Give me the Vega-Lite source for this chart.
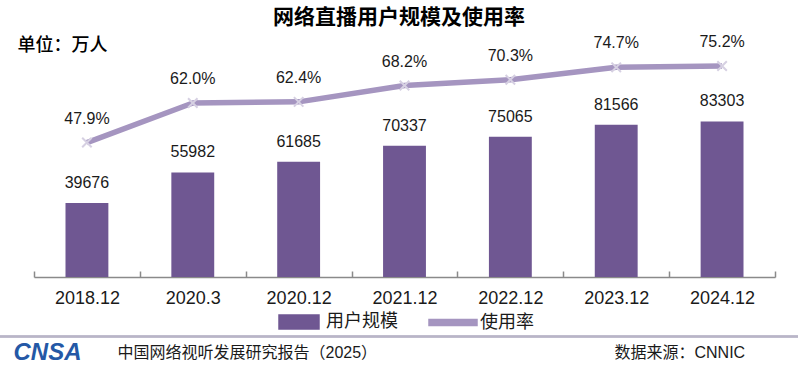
{
  "$schema": "https://vega.github.io/schema/vega-lite/v6.json",
  "width": 798,
  "height": 247,
  "padding": {"top": 30, "left": 0, "right": 0, "bottom": 93},
  "autosize": {"type": "none"},
  "background": "white",
  "title": {
    "text": "网络直播用户规模及使用率",
    "font": "Noto Sans CJK SC",
    "fontSize": 21,
    "fontWeight": "bold",
    "color": "#000000",
    "anchor": "middle",
    "frame": "group",
    "offset": 2
  },
  "config": {
    "view": {"stroke": null},
    "text": {"font": "Liberation Sans"}
  },
  "data": {
    "values": [
      {"period": "2018.12", "users": 39676, "rate": 0.479},
      {"period": "2020.3", "users": 55982, "rate": 0.620},
      {"period": "2020.12", "users": 61685, "rate": 0.624},
      {"period": "2021.12", "users": 70337, "rate": 0.682},
      {"period": "2022.12", "users": 75065, "rate": 0.703},
      {"period": "2023.12", "users": 81566, "rate": 0.747},
      {"period": "2024.12", "users": 83303, "rate": 0.752}
    ]
  },
  "layer": [
    {
      "encoding": {
        "x": {
          "field": "period", "type": "ordinal", "sort": null,
          "scale": {"range": [34, 775], "paddingInner": 0, "paddingOuter": 0},
          "axis": {
            "orient": "bottom",
            "title": "中国网络视听发展研究报告（2025）",
            "titleX": 117, "titleY": 75, "titleAlign": "left", "titleBaseline": "middle",
            "titleFont": "Liberation Sans, Noto Sans CJK SC", "titleFontSize": 16, "titleFontWeight": "normal", "titleColor": "#1a1a1a",
            "labelAngle": 0, "labelFont": "Liberation Sans", "labelFontSize": 18, "labelColor": "#1a1a1a",
            "labelBaseline": "middle", "labelPadding": 27,
            "tickBand": "extent", "tickSize": -6, "tickColor": "#8a8a8a", "tickWidth": 1.5,
            "domainColor": "#8a8a8a", "domainWidth": 1.5, "grid": false
          }
        },
        "y": {
          "field": "users", "type": "quantitative",
          "scale": {"domain": [0, 132300], "nice": false},
          "axis": {
            "orient": "left",
            "title": "单位：万人", "titleAngle": 0, "titleX": 17, "titleY": 15,
            "titleAlign": "left", "titleBaseline": "middle",
            "titleFont": "Noto Sans CJK SC", "titleFontSize": 18, "titleFontWeight": 500, "titleColor": "#000000",
            "labels": false, "ticks": false, "domain": false, "grid": false
          }
        }
      },
      "layer": [
        {
          "mark": {"type": "bar", "width": {"band": 0.405}},
          "encoding": {
            "color": {
              "datum": "用户规模", "type": "nominal",
              "scale": {"domain": ["用户规模", "使用率"], "range": ["#6f5792", "#a595c0"]},
              "legend": {
                "orient": "none", "legendX": 274, "legendY": 267,
                "direction": "horizontal", "title": null, "padding": 0,
                "labelFont": "Noto Sans CJK SC", "labelFontSize": 18, "labelColor": "#1a1a1a",
                "labelOffset": 2, "symbolSize": 2304, "columnPadding": 28,
                "encode": {
                  "symbols": {
                    "update": {
                      "shape": {"signal": "datum.value === '用户规模' ? 'M-0.833,-0.29H0.833V0.29H-0.833Z' : 'M-1,-0.12H1V0.12H-1Z'"},
                      "fill": {"signal": "datum.value === '用户规模' ? '#6f5792' : '#a595c0'"},
                      "stroke": {"value": "transparent"},
                      "opacity": {"value": 1}
                    }
                  }
                }
              }
            }
          }
        },
        {
          "mark": {"type": "text", "baseline": "alphabetic", "dy": -15, "fontSize": 16, "color": "#1a1a1a", "font": "Liberation Sans"},
          "encoding": {"text": {"field": "users", "type": "quantitative", "format": "d"}}
        }
      ]
    },
    {
      "encoding": {
        "x": {
          "field": "period", "type": "ordinal", "sort": null,
          "axis": {
            "orient": "top",
            "title": "CNSA", "titleX": 13, "titleY": 322, "titleAlign": "left", "titleBaseline": "middle",
            "titleFont": "Liberation Sans", "titleFontSize": 24, "titleFontWeight": "bold", "titleFontStyle": "italic", "titleColor": "#2458a6",
            "labels": false, "ticks": false, "domain": false, "grid": false
          }
        },
        "y": {
          "field": "rate", "type": "quantitative",
          "scale": {"domain": [0, 0.88], "nice": false},
          "axis": {
            "orient": "right",
            "title": "数据来源：CNNIC", "titleAngle": 0, "titleX": -184, "titleY": 322,
            "titleAlign": "left", "titleBaseline": "middle",
            "titleFont": "Liberation Sans, Noto Sans CJK SC", "titleFontSize": 16, "titleFontWeight": "normal", "titleColor": "#1a1a1a",
            "labels": false, "ticks": false, "domain": false, "grid": false
          }
        }
      },
      "layer": [
        {
          "mark": {"type": "line", "strokeWidth": 5.5, "strokeJoin": "round"},
          "encoding": {"color": {"datum": "使用率", "type": "nominal"}}
        },
        {
          "mark": {"type": "point", "shape": "M-1,-1L1,1M-1,1L1,-1", "filled": false, "size": 90, "stroke": "#d6d0e2", "strokeWidth": 2, "opacity": 1}
        },
        {
          "mark": {"type": "text", "baseline": "alphabetic", "dy": -19, "fontSize": 16, "color": "#1a1a1a", "font": "Liberation Sans"},
          "encoding": {"text": {"field": "rate", "type": "quantitative", "format": ".1%"}}
        }
      ]
    },
    {
      "mark": {"type": "rule", "color": "#b9b5c7", "strokeWidth": 1.5},
      "encoding": {
        "y": {"datum": -0.212, "type": "quantitative", "scale": {"domain": [0, 0.88], "nice": false}, "axis": null}
      }
    }
  ],
  "resolve": {
    "scale": {"y": "independent"},
    "axis": {"x": "independent", "y": "independent"}
  }
}
